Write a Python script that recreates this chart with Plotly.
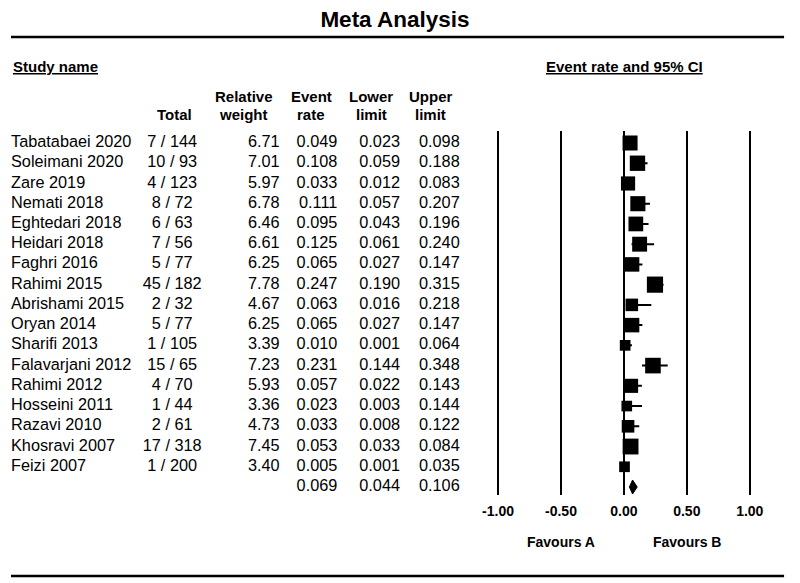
import plotly.graph_objects as go

# study data
studies = ["Tabatabaei 2020", "Soleimani 2020", "Zare 2019", "Nemati 2018", "Eghtedari 2018",
           "Heidari 2018", "Faghri 2016", "Rahimi 2015", "Abrishami 2015", "Oryan 2014",
           "Sharifi 2013", "Falavarjani 2012", "Rahimi 2012", "Hosseini 2011", "Razavi 2010",
           "Khosravi 2007", "Feizi 2007"]
events = [7, 10, 4, 8, 6, 7, 5, 45, 2, 5, 1, 15, 4, 1, 2, 17, 1]
totals = [144, 93, 123, 72, 63, 56, 77, 182, 32, 77, 105, 65, 70, 44, 61, 318, 200]
weights = [6.71, 7.01, 5.97, 6.78, 6.46, 6.61, 6.25, 7.78, 4.67, 6.25, 3.39, 7.23, 5.93, 3.36, 4.73, 7.45, 3.40]
rates = [0.049, 0.108, 0.033, 0.111, 0.095, 0.125, 0.065, 0.247, 0.063, 0.065, 0.010, 0.231, 0.057, 0.023, 0.033, 0.053, 0.005]
lower = [0.023, 0.059, 0.012, 0.057, 0.043, 0.061, 0.027, 0.190, 0.016, 0.027, 0.001, 0.144, 0.022, 0.003, 0.008, 0.033, 0.001]
upper = [0.098, 0.188, 0.083, 0.207, 0.196, 0.240, 0.147, 0.315, 0.218, 0.147, 0.064, 0.348, 0.143, 0.144, 0.122, 0.084, 0.035]
pooled_rate, pooled_lower, pooled_upper = 0.069, 0.044, 0.106
x_ticks = [-1.0, -0.5, 0.0, 0.5, 1.0]

# the page body has an 8px margin, so the figure starts 8px into the window
OX, OY = 8, 8
W, H = 800 - OX, 583 - OY
FONT = "Liberation Sans, Arial, sans-serif"
ROW_PX = 20.24          # pixel height of one row
UNIT_PX = 126.5         # pixels per 1.0 on the forest axis
ZERO_PX = 624
N = len(studies)


def px(p):
    # window pixel column -> paper x
    return (p - OX) / W


def py(p):
    # window pixel row -> paper y
    return 1 - (p - OY) / H


rows = list(range(N))
all_rows = rows + [N]

fig = go.Figure()

# confidence interval whiskers
wx, wy = [], []
for lo, hi, r in zip(lower, upper, rows):
    wx += [lo, hi, None]
    wy += [r, r, None]
fig.add_trace(go.Scatter(x=wx, y=wy, mode="lines", line=dict(color="black", width=2),
                         hoverinfo="skip", cliponaxis=False))

# weight boxes (area ~ weight)
fig.add_trace(go.Scatter(
    x=rates, y=rows, mode="markers",
    marker=dict(symbol="square", color="black", opacity=1,
                size=[5.8 * w ** 0.5 for w in weights], line=dict(width=0)),
    cliponaxis=False))

# pooled diamond
h = 7 / ROW_PX
fig.add_trace(go.Scatter(
    x=[pooled_lower, pooled_rate, pooled_upper, pooled_rate, pooled_lower],
    y=[N, N - h, N, N + h, N],
    mode="lines", fill="toself", fillcolor="black", line=dict(color="black", width=1),
    cliponaxis=False))


def add_column(values, xpos, position):
    fig.add_trace(go.Scatter(
        x=[xpos] * len(values), y=all_rows[:len(values)], mode="text", text=values,
        textposition=position, textfont=dict(family=FONT, size=16.3, color="black"),
        xaxis="x2", cliponaxis=False))


add_column(studies, OX, "middle right")
add_column([f"{e} / {t}" for e, t in zip(events, totals)], 170, "middle center")
add_column([f"{w:.2f}" for w in weights], 278, "middle left")
add_column([f"{v:.3f}" for v in rates + [pooled_rate]], 336, "middle left")
add_column([f"{v:.3f}" for v in lower + [pooled_lower]], 399, "middle left")
add_column([f"{v:.3f}" for v in upper + [pooled_upper]], 459, "middle left")

# column headers
headers = [("", "Total", 172), ("Relative", "weight", 242), ("Event", "rate", 310),
           ("Lower", "limit", 370), ("Upper", "limit", 430)]
bold15 = dict(family=FONT, size=15, weight="bold", color="black")
bold14 = dict(family=FONT, size=14, weight="bold", color="black")
annotations = []
for top, bottom, cx in headers:
    for txt, yp in ((top, 96), (bottom, 114)):
        if txt:
            annotations.append(dict(x=cx, y=py(yp), xref="x2", yref="paper", text=txt,
                                    showarrow=False, xanchor="center", yanchor="middle",
                                    font=bold15))

annotations += [
    dict(x=0, y=py(67), xref="paper", yref="paper", text="<u>Study name</u>", showarrow=False,
         xanchor="left", yanchor="middle", font=bold15),
    dict(x=px(624.5), y=py(67), xref="paper", yref="paper", text="<u>Event rate and 95% CI</u>",
         showarrow=False, xanchor="center", yanchor="middle", font=bold15),
    dict(x=-0.5, y=py(542), xref="x", yref="paper", text="Favours A", showarrow=False,
         xanchor="center", yanchor="middle", font=bold14),
    dict(x=0.5, y=py(542), xref="x", yref="paper", text="Favours B", showarrow=False,
         xanchor="center", yanchor="middle", font=bold14),
]

fig.update_layout(
    width=W, height=H,
    margin=dict(l=0, r=0, t=0, b=0),
    paper_bgcolor="white", plot_bgcolor="white",
    showlegend=False,
    title=dict(text="Meta Analysis", x=px(395), y=py(19), xanchor="center", yanchor="middle",
               font=dict(family=FONT, size=22.5, weight="bold", color="black")),
    xaxis=dict(domain=[px(ZERO_PX - 1.1 * UNIT_PX), px(ZERO_PX + 1.1 * UNIT_PX)], range=[-1.1, 1.1],
               tickvals=x_ticks, ticktext=[f"{v:.2f}" for v in x_ticks],
               tickfont=bold14,
               showgrid=True, gridcolor="black", gridwidth=2,
               zeroline=True, zerolinecolor="black", zerolinewidth=2,
               showline=False, ticks="", ticklabelstandoff=6, fixedrange=True),
    xaxis2=dict(domain=[0, 480 / W], range=[OX, OX + 480], anchor="y", visible=False, fixedrange=True),
    yaxis=dict(domain=[py(495), py(131)], range=[N + 8 / ROW_PX, -12 / ROW_PX],
               visible=False, fixedrange=True),
    annotations=annotations,
    shapes=[
        dict(type="line", xref="paper", yref="paper", x0=0, x1=px(785), y0=py(37), y1=py(37),
             line=dict(color="black", width=2.5)),
        dict(type="line", xref="paper", yref="paper", x0=0, x1=px(785), y0=py(576), y1=py(576),
             line=dict(color="black", width=2.5)),
    ],
)

fig.write_html("out.html")
